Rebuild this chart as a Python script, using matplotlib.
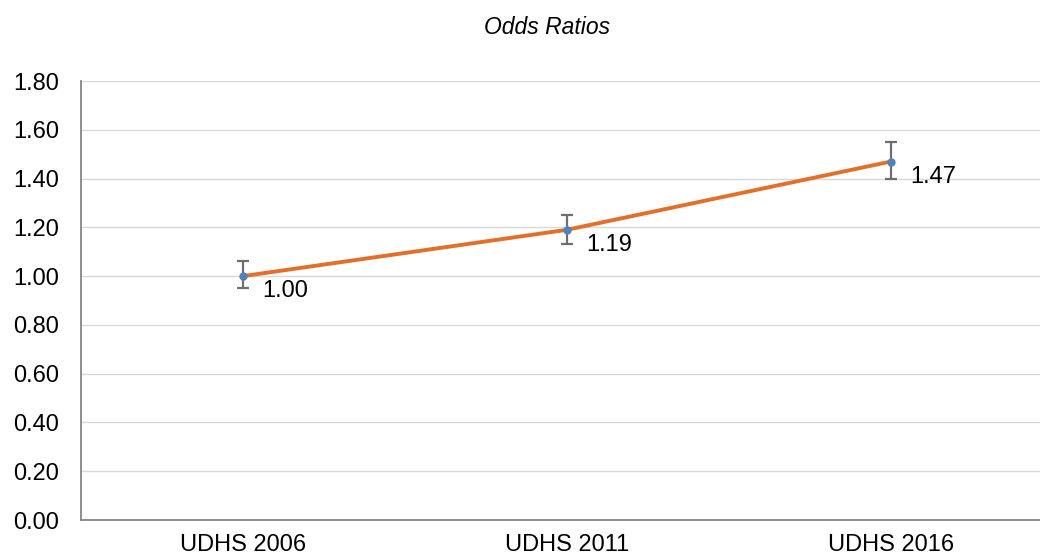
import numpy as np
import matplotlib.pyplot as plt

plt.rcParams['font.family'] = ['Liberation Sans', 'DejaVu Sans']

# data
surveys = ["UDHS 2006", "UDHS 2011", "UDHS 2016"]
odds = [1.00, 1.19, 1.47]
ci_low = [0.95, 1.13, 1.40]
ci_high = [1.06, 1.25, 1.55]
yticks = [0.0, 0.2, 0.4, 0.6, 0.8, 1.0, 1.2, 1.4, 1.6, 1.8]

x = np.arange(len(surveys))
err = [np.array(odds) - np.array(ci_low), np.array(ci_high) - np.array(odds)]

fig = plt.figure(figsize=(10.4, 5.58), dpi=100)
ax = fig.add_axes([0.0779, 0.0681, 0.9346, 0.7867])

ax.plot(x, odds, color="#E2702A", lw=2.8, zorder=3)
ax.errorbar(x, odds, yerr=err, fmt="none", ecolor="#6F6F6F", elinewidth=1.6,
            capsize=4, capthick=1.6, zorder=4)
ax.plot(x, odds, "o", color="#4F81BD", ms=5, zorder=5)

for xi, v in zip(x, odds):
    ax.annotate(f"{v:.2f}", (xi, v), xytext=(14, -11), textcoords="offset points",
                ha="left", va="center", fontsize=17, color="black")

ax.set_xlim(-0.5, len(surveys) - 0.5)
ax.set_ylim(0, 1.8)
ax.set_yticks(yticks)
ax.set_yticklabels([f"{t:.2f}" for t in yticks], fontsize=17)
ax.set_xticks(x)
ax.set_xticklabels(surveys, fontsize=17)
ax.tick_params(axis="y", length=0, pad=16)
ax.tick_params(axis="x", length=0, pad=10)
ax.grid(axis="y", color="#D9D9D9", lw=1)
ax.set_axisbelow(True)
for s in ["top", "right"]:
    ax.spines[s].set_visible(False)
for s in ["left", "bottom"]:
    ax.spines[s].set_color("#868686")
    ax.spines[s].set_linewidth(1.3)

fig.text(0.526, 0.95, "Odds Ratios", ha="center", va="center", fontsize=16.5, style="italic")

fig.savefig("out.png", dpi=100)
